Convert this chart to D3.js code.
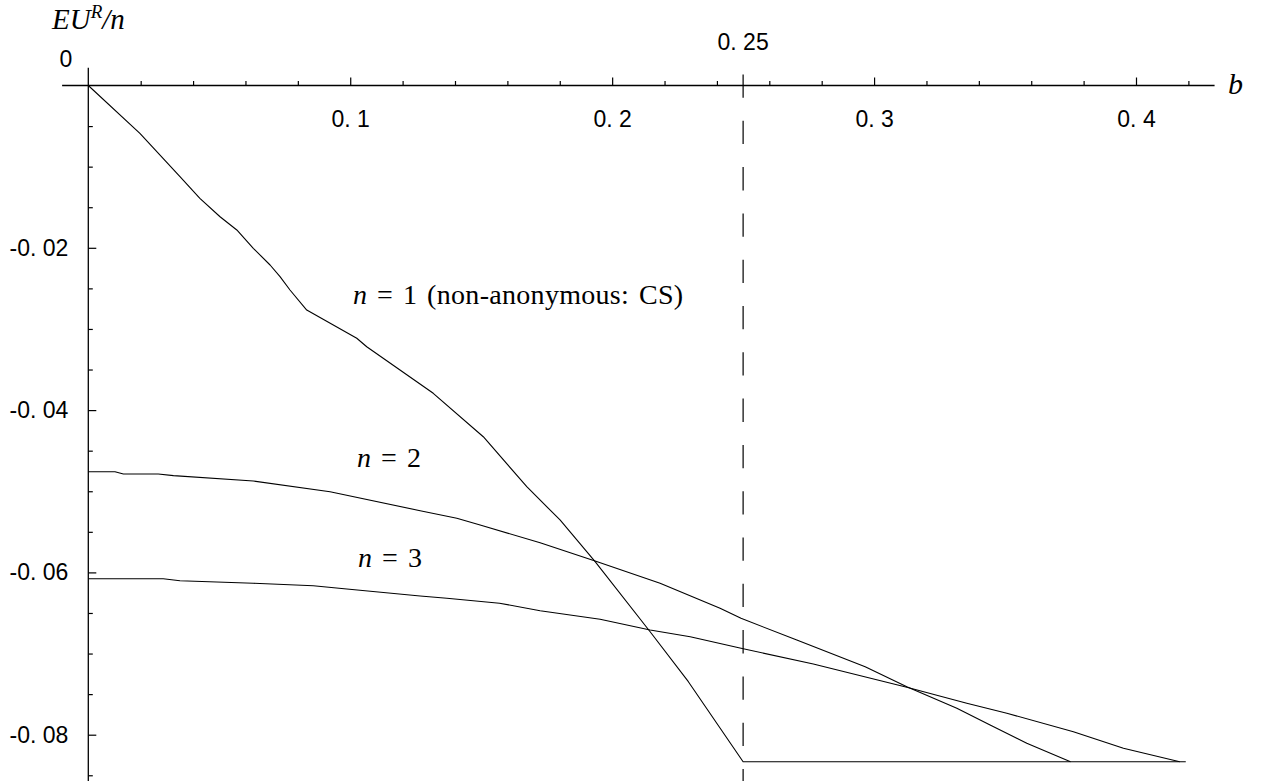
<!DOCTYPE html>
<html>
<head>
<meta charset="utf-8">
<script src="https://cdn.jsdelivr.net/npm/d3@7"></script>
<style>
  html, body { margin: 0; padding: 0; background: #fff; }
  svg { display: block; }
  .tick-label { font-family: 'Liberation Sans', Arial, sans-serif; font-size: 23px; fill: #000; }
  .math { font-family: 'Liberation Serif', 'Times New Roman', serif; fill: #000; }
</style>
</head>
<body>
<svg id="chart" width="1263" height="781"></svg>
<script>
// tick values and labels
let xMajorTicks = [0.1, 0.2, 0.3, 0.4];
let xMajorLabels = ['0. 1', '0. 2', '0. 3', '0. 4'];
let yMajorTicks = [-0.02, -0.04, -0.06, -0.08];
let yMajorLabels = ['-0. 02', '-0. 04', '-0. 06', '-0. 08'];
let bMark = 0.25;
let bMarkLabel = '0. 25';

// EU^R/n against b
let n1Points = [
    [0, 0], [0.0197, -0.00589], [0.0350, -0.01124], [0.0426, -0.0139], [0.0503, -0.01617],
    [0.0567, -0.0178], [0.0630, -0.02006], [0.0694, -0.02212], [0.0732, -0.02356],
    [0.0770, -0.0252], [0.0834, -0.02767], [0.1025, -0.03115], [0.1063, -0.03219],
    [0.1317, -0.03793], [0.1508, -0.04328], [0.1674, -0.04944], [0.1801, -0.05354],
    [0.1935, -0.05868], [0.2145, -0.06731], [0.2291, -0.07347], [0.25, -0.08333],
    [0.419, -0.08333]
];
let n2Points = [
    [0, -0.04759], [0.0102, -0.04759], [0.0134, -0.04787], [0.0267, -0.04787],
    [0.0325, -0.04808], [0.0630, -0.04874], [0.0923, -0.05006], [0.1267, -0.0524],
    [0.1407, -0.05333], [0.1496, -0.05416], [0.1725, -0.05634], [0.1935, -0.0586],
    [0.2183, -0.06134], [0.2412, -0.06442], [0.2492, -0.06566], [0.2705, -0.06833],
    [0.2966, -0.07162], [0.3125, -0.07409], [0.3316, -0.07675], [0.3443, -0.0788],
    [0.3583, -0.08106], [0.375, -0.08333]
];
let n3Points = [
    [0, -0.06078], [0.0286, -0.06078], [0.0350, -0.06102], [0.0630, -0.06134],
    [0.0859, -0.06164], [0.0987, -0.06205], [0.1267, -0.06291], [0.1369, -0.06319],
    [0.157, -0.0638], [0.1725, -0.06472], [0.1954, -0.06578], [0.2145, -0.0671],
    [0.2298, -0.06792], [0.2492, -0.06935], [0.2768, -0.07129], [0.3125, -0.07416],
    [0.3354, -0.07613], [0.3507, -0.07736], [0.3761, -0.07963], [0.3952, -0.08168],
    [0.4167, -0.08333]
];

let svg = d3.select('#chart');

let x = d3.scaleLinear().domain([0, 0.4]).range([88.3, 1136]);
let y = d3.scaleLinear().domain([0, -0.08]).range([85.5, 734.7]);

let xMinor = d3.range(1, 22).map(i => i * 0.02).filter(v => Math.abs(v * 10 - Math.round(v * 10)) > 1e-6);
let yMinor = d3.range(1, 18).map(i => -i * 0.005).filter(v => Math.abs(v * 50 - Math.round(v * 50)) > 1e-6);

// axis lines
svg.append('line')
    .attr('x1', x(-0.01)).attr('x2', x(0.43))
    .attr('y1', y(0)).attr('y2', y(0))
    .attr('stroke', '#000').attr('stroke-width', 1.3);
svg.append('line')
    .attr('x1', x(0)).attr('x2', x(0))
    .attr('y1', y(0.0022)).attr('y2', y(-0.087))
    .attr('stroke', '#000').attr('stroke-width', 1.3);

// x ticks: pointing up, labels below
let gx = svg.append('g').attr('transform', `translate(0,${y(0)})`);
gx.call(d3.axisBottom(x).tickValues(xMajorTicks)
    .tickFormat((d, i) => xMajorLabels[i])
    .tickSizeInner(-8).tickSizeOuter(0).tickPadding(25));
gx.call(g => g.select('.domain').remove());

let gxm = svg.append('g').attr('transform', `translate(0,${y(0)})`);
gxm.call(d3.axisBottom(x).tickValues(xMinor).tickFormat('')
    .tickSizeInner(-4.5).tickSizeOuter(0));
gxm.call(g => g.select('.domain').remove());

// y ticks: pointing right, labels left
let gy = svg.append('g').attr('transform', `translate(${x(0)},0)`);
gy.call(d3.axisLeft(y).tickValues(yMajorTicks)
    .tickFormat((d, i) => yMajorLabels[i])
    .tickSizeInner(-8).tickSizeOuter(0).tickPadding(20));
gy.call(g => g.select('.domain').remove());

let gym = svg.append('g').attr('transform', `translate(${x(0)},0)`);
gym.call(d3.axisLeft(y).tickValues(yMinor).tickFormat('')
    .tickSizeInner(-4.5).tickSizeOuter(0));
gym.call(g => g.select('.domain').remove());

svg.selectAll('.tick line').attr('stroke', '#000').attr('stroke-width', 1.2);
svg.selectAll('.tick text')
    .attr('class', 'tick-label')
    .attr('font-family', null).attr('font-size', null);

// dashed marker at b = 0.25
svg.append('line')
    .attr('x1', x(bMark)).attr('x2', x(bMark))
    .attr('y1', y(-0.0871)).attr('y2', y(0.0022))
    .attr('stroke', '#000').attr('stroke-width', 1.2)
    .attr('stroke-dasharray', '23.3,23');
svg.append('text')
    .attr('class', 'tick-label')
    .attr('x', x(bMark)).attr('y', 50)
    .attr('text-anchor', 'middle')
    .text(bMarkLabel);

svg.append('text')
    .attr('class', 'tick-label')
    .attr('x', 66).attr('y', 67)
    .attr('text-anchor', 'middle')
    .text('0');

// curves
let line = d3.line().x(d => x(d[0])).y(d => y(d[1]));
[n1Points, n2Points, n3Points].forEach(pts => {
    svg.append('path')
        .datum(pts)
        .attr('d', line)
        .attr('fill', 'none')
        .attr('stroke', '#000')
        .attr('stroke-width', 1.1)
        .attr('stroke-linejoin', 'round');
});

// axis titles
let yt = svg.append('text').attr('class', 'math')
    .attr('x', 52).attr('y', 29)
    .attr('font-size', 29).attr('font-style', 'italic');
yt.append('tspan').text('EU');
yt.append('tspan').attr('font-size', 19).attr('dy', -11).text('R');
yt.append('tspan').attr('dy', 11).text('/n');

svg.append('text').attr('class', 'math')
    .attr('x', 1228).attr('y', 94)
    .attr('font-size', 30).attr('font-style', 'italic')
    .text('b');

// curve labels
function curveLabel(px, py, rest) {
    let t = svg.append('text').attr('class', 'math')
        .attr('x', px).attr('y', py)
        .attr('font-size', 28)
        .attr('word-spacing', 2.5)
        .attr('letter-spacing', 0.3);
    t.append('tspan').attr('font-style', 'italic').text('n');
    t.append('tspan').text(' = ' + rest);
}
curveLabel(353, 304, '1 (non-anonymous: CS)');
curveLabel(357, 467, '2');
curveLabel(358, 567, '3');
</script>
</body>
</html>
